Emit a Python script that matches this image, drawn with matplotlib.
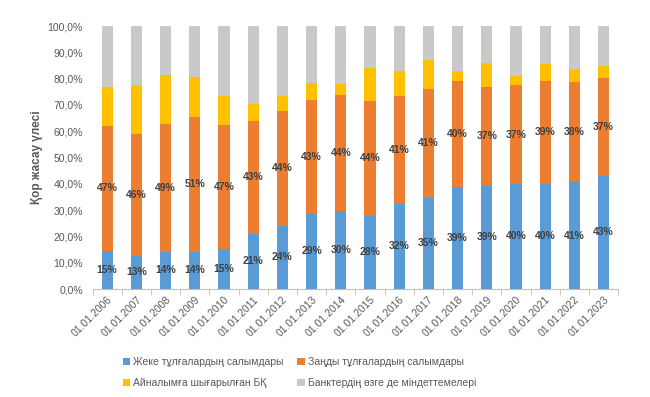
import numpy as np
import matplotlib
matplotlib.use("Agg")
import matplotlib.pyplot as plt

plt.rcParams['font.family'] = ['Liberation Sans', 'DejaVu Sans']

# data (shares, %)
dates = ['01.01.2006', '01.01.2007', '01.01.2008', '01.01.2009', '01.01.2010',
         '01.01.2011', '01.01.2012', '01.01.2013', '01.01.2014', '01.01.2015',
         '01.01.2016', '01.01.2017', '01.01.2018', '01.01.2019', '01.01.2020',
         '01.01.2021', '01.01.2022', '01.01.2023']
individuals = [14.6, 12.7, 14.2, 14.2, 15.2, 21.0, 24.1, 28.6, 29.6, 27.9,
               32.4, 34.7, 38.8, 39.3, 40.0, 40.0, 40.6, 43.1]
legal = [47.4, 46.2, 48.6, 51.2, 47.2, 42.9, 43.6, 43.4, 44.2, 43.6,
         41.0, 41.3, 40.3, 37.4, 37.4, 39.1, 38.1, 37.1]
securities = [14.8, 18.4, 18.4, 15.3, 11.1, 6.6, 5.8, 6.3, 4.3, 12.7,
              9.5, 11.1, 3.8, 9.1, 3.7, 6.6, 5.0, 4.6]
other = [100 - a - b - c for a, b, c in zip(individuals, legal, securities)]

names = ['Жеке тұлғалардың салымдары', 'Заңды тұлғалардың салымдары',
         'Айналымға шығарылған БҚ', 'Банктердің өзге де міндеттемелері']
colors = ['#5B9BD5', '#ED7D31', '#FFC000', '#C9C9C9']

fig = plt.figure(figsize=(6.5, 3.97), dpi=100)
ax = fig.add_axes([0.1425, 0.272, 0.8085, 0.6625])

x = np.arange(len(dates))
w = 0.38
series = [individuals, legal, securities, other]
bottom = np.zeros(len(dates))
handles = []
for i, (vals, name, col) in enumerate(zip(series, names, colors)):
    vals = np.array(vals)
    h = ax.bar(x, vals, w, bottom=bottom, color=col, label=name, zorder=2)
    handles.append(h)
    if i < 2:
        for xi, b, v in zip(x, bottom, vals):
            ax.text(xi, b + v / 2, f'{v:.0f}%', ha='center', va='center',
                    fontsize=7.5, fontweight='bold', color='#404040')
    bottom += vals

ax.set_xlim(-0.5, len(dates) - 0.5)
ax.set_ylim(0, 100)
ax.set_yticks(np.arange(0, 101, 10))
ax.set_yticklabels([f'{v:.1f}%'.replace('.', ',') for v in range(0, 101, 10)],
                   fontsize=7.5, color='#595959')
ax.set_xticks(x)
ax.set_xticklabels(dates, rotation=45, ha='right', rotation_mode='anchor',
                   fontsize=7.5, color='#595959')
ax.tick_params(axis='x', length=0, pad=4)
ax.tick_params(axis='y', length=0, pad=7)
ax.set_xticks(np.arange(-0.5, len(dates), 1), minor=True)
ax.tick_params(axis='x', which='minor', length=4, color='#BFBFBF')
for s in ['top', 'right', 'left']:
    ax.spines[s].set_visible(False)
ax.spines['bottom'].set_color('#BFBFBF')

ax.set_ylabel('Қор жасау үлесі', fontsize=8.5, fontweight='bold', color='#595959',
              labelpad=3)

order = [0, 2, 1, 3]
fig.legend([handles[i] for i in order], [names[i] for i in order],
           loc='upper left', bbox_to_anchor=(0.189, 0.100), ncol=2, frameon=False,
           fontsize=7.5, labelcolor='#595959', handlelength=0.7, handleheight=0.7,
           handletextpad=0.3, columnspacing=1.3, labelspacing=1.05,
           borderpad=0, borderaxespad=0)

fig.savefig('out.png', dpi=100)
